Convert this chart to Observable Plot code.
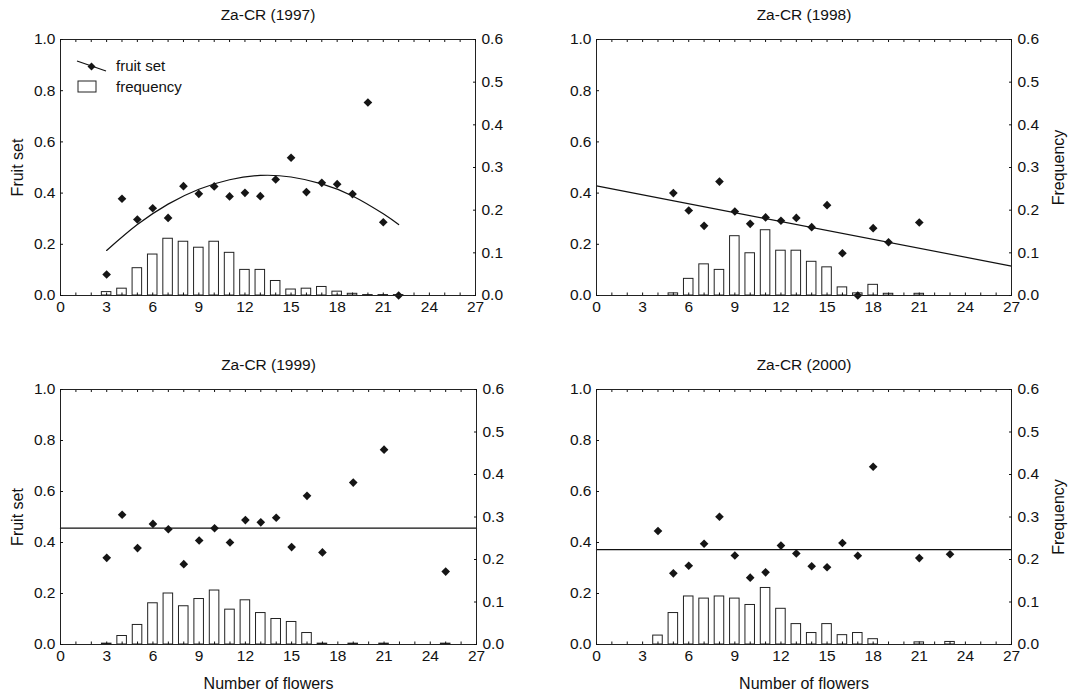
<!DOCTYPE html>
<html>
<head>
<meta charset="utf-8">
<script src="https://cdn.jsdelivr.net/npm/d3@7"></script>
<script src="https://cdn.jsdelivr.net/npm/@observablehq/plot@0.6"></script>
<style>
  html, body { margin: 0; padding: 0; background: #fff; }
  #wrap { position: relative; width: 1068px; height: 692px; background: #fff; font-family: "Liberation Sans", Arial, sans-serif; }
  .panel { position: absolute; }
  #legend { position: absolute; left: 0; top: 0; }
</style>
</head>
<body>
<div id="wrap"></div>
<script>
// ---------- data ----------
const titles = ["Za-CR (1997)", "Za-CR (1998)", "Za-CR (1999)", "Za-CR (2000)"];
const xTickValues = [0, 3, 6, 9, 12, 15, 18, 21, 24, 27];
const fruitTicks = [0, 0.2, 0.4, 0.6, 0.8, 1.0];
const freqTicks = [0, 0.1, 0.2, 0.3, 0.4, 0.5, 0.6];

// 1997
const pts1997X = [3,4,5,6,7,8,9,10,11,12,13,14,15,16,17,18,19,20,21,22];
const fruit1997 = [0.082,0.378,0.297,0.341,0.303,0.427,0.397,0.426,0.387,0.401,0.388,0.453,0.538,0.404,0.440,0.435,0.396,0.754,0.286,0.0];
const bars1997X = [3,4,5,6,7,8,9,10,11,12,13,14,15,16,17,18,19,20,21,22];
const freq1997 = [0.008,0.016,0.064,0.096,0.133,0.126,0.112,0.126,0.100,0.060,0.060,0.034,0.014,0.016,0.020,0.009,0.004,0.001,0.001,0.001];
const fit1997X = [3,5,7,9,11,13,15,17,19,21,22];
const fit1997Y = [0.176,0.277,0.357,0.415,0.452,0.469,0.463,0.436,0.389,0.319,0.277];

// 1998
const pts1998X = [5,6,7,8,9,10,11,12,13,14,15,16,17,18,19,21];
const fruit1998 = [0.400,0.332,0.272,0.445,0.328,0.280,0.305,0.292,0.303,0.267,0.353,0.165,0.0,0.263,0.208,0.285];
const bars1998X = [5,6,7,8,9,10,11,12,13,14,15,16,17,18,19,21];
const freq1998 = [0.005,0.039,0.073,0.060,0.139,0.099,0.153,0.105,0.105,0.079,0.066,0.019,0.005,0.025,0.004,0.004];
const fit1998X = [0, 27];
const fit1998Y = [0.428, 0.115];

// 1999
const pts1999X = [3,4,5,6,7,8,9,10,11,12,13,14,15,16,17,19,21,25];
const fruit1999 = [0.340,0.509,0.378,0.473,0.452,0.315,0.408,0.456,0.400,0.488,0.479,0.497,0.382,0.583,0.361,0.635,0.764,0.286];
const bars1999X = [3,4,5,6,7,8,9,10,11,12,13,14,15,16,17,19,21,25];
const freq1999 = [0.002,0.020,0.046,0.097,0.120,0.090,0.107,0.127,0.082,0.104,0.074,0.060,0.053,0.027,0.002,0.002,0.002,0.002];
const fit1999X = [0, 27];
const fit1999Y = [0.456, 0.456];

// 2000
const pts2000X = [4,5,6,7,8,9,10,11,12,13,14,15,16,17,18,21,23];
const fruit2000 = [0.445,0.279,0.309,0.395,0.501,0.349,0.262,0.283,0.388,0.357,0.307,0.303,0.398,0.348,0.697,0.339,0.354];
const bars2000X = [4,5,6,7,8,9,10,11,12,13,14,15,16,17,18,21,23];
const freq2000 = [0.021,0.074,0.113,0.108,0.113,0.108,0.093,0.133,0.084,0.048,0.027,0.048,0.022,0.027,0.0125,0.005,0.006];
const fit2000X = [0, 27];
const fit2000Y = [0.372, 0.372];

// ---------- helpers ----------
const FREQ_MAX = 0.6;       // right axis max
const BAR_HALF = 0.31;      // half bar width in x units
const FONT = "'Liberation Sans', Arial, Helvetica, sans-serif";
const TICK_FS = 15.5;

const zip = (xs, ys) => xs.map((x, i) => ({x, y: ys[i]}));

function panel(cfg) {
  const {title, ptsX, fruit, barsX, freq, fitX, fitY, curve,
         left, top, width, height, mt, mb, ml, mr,
         fruitLabel, freqLabel, xLabel} = cfg;
  const points = zip(ptsX, fruit);
  const bars = zip(barsX, freq);
  const fit = zip(fitX, fitY);
  const marks = [
    Plot.rectY(bars, {x1: d => d.x - BAR_HALF, x2: d => d.x + BAR_HALF, y1: 0, y2: d => d.y / FREQ_MAX,
                      fill: "white", stroke: "#222", strokeWidth: 1}),
    Plot.line(fit, {x: "x", y: "y", stroke: "#111", strokeWidth: 1.2, curve: curve || "linear"}),
    Plot.dot(points, {x: "x", y: "y", symbol: "diamond2", r: 3.9, fill: "#151515", stroke: "none"}),
    Plot.frame({stroke: "#222", strokeWidth: 1}),
    Plot.axisX({ticks: d3.range(0, 28), tickSize: -2.5, tickPadding: 8,
                tickFormat: d => (xTickValues.includes(d) ? String(d) : ""), label: null, fontSize: TICK_FS}),
    Plot.axisX({anchor: "top", ticks: d3.range(0, 28), tickSize: -2, tickFormat: () => "", label: null}),
    Plot.axisY({anchor: "left", ticks: fruitTicks, tickSize: -3, tickPadding: 8,
                tickFormat: d3.format(".1f"), label: null, fontSize: TICK_FS}),
    Plot.axisY({anchor: "right", ticks: freqTicks.map(v => v / FREQ_MAX), tickSize: -3, tickPadding: 9,
                tickFormat: d => (d * FREQ_MAX).toFixed(1), label: null, fontSize: TICK_FS}),
    Plot.text([title], {frameAnchor: "top", dy: -24, lineAnchor: "middle", textAnchor: "middle", fontSize: 15.5, fill: "#111"})
  ];
  if (fruitLabel) marks.push(Plot.text(["Fruit set"], {frameAnchor: "left", dx: -43, rotate: -90,
    textAnchor: "middle", lineAnchor: "middle", fontSize: 16, fill: "#111"}));
  if (freqLabel) marks.push(Plot.text(["Frequency"], {frameAnchor: "right", dx: 47, rotate: -90,
    textAnchor: "middle", lineAnchor: "middle", fontSize: 16, fill: "#111"}));
  if (xLabel) marks.push(Plot.text(["Number of flowers"], {frameAnchor: "bottom", dy: 39,
    textAnchor: "middle", lineAnchor: "middle", fontSize: 16, fill: "#111"}));

  const svg = Plot.plot({
    width, height,
    marginTop: mt, marginBottom: mb, marginLeft: ml, marginRight: mr,
    x: {domain: [0, 27]},
    y: {domain: [0, 1]},
    style: {fontFamily: FONT, fontSize: "15px", color: "#111", background: "transparent", overflow: "visible"},
    marks
  });
  svg.classList.add("panel");
  svg.style.left = left + "px";
  svg.style.top = top + "px";
  svg.style.position = "absolute";
  return svg;
}

const wrap = document.getElementById("wrap");
wrap.appendChild(panel({title: titles[0], ptsX: pts1997X, fruit: fruit1997, barsX: bars1997X, freq: freq1997,
  fitX: fit1997X, fitY: fit1997Y, curve: "natural",
  left: 0, top: 0, width: 534, height: 346, mt: 39, mb: 51, ml: 60, mr: 59, fruitLabel: true}));
wrap.appendChild(panel({title: titles[1], ptsX: pts1998X, fruit: fruit1998, barsX: bars1998X, freq: freq1998,
  fitX: fit1998X, fitY: fit1998Y,
  left: 534, top: 0, width: 534, height: 346, mt: 39, mb: 51, ml: 62, mr: 57, freqLabel: true}));
wrap.appendChild(panel({title: titles[2], ptsX: pts1999X, fruit: fruit1999, barsX: bars1999X, freq: freq1999,
  fitX: fit1999X, fitY: fit1999Y,
  left: 0, top: 346, width: 534, height: 346, mt: 43, mb: 48, ml: 60, mr: 58, fruitLabel: true, xLabel: true}));
wrap.appendChild(panel({title: titles[3], ptsX: pts2000X, fruit: fruit2000, barsX: bars2000X, freq: freq2000,
  fitX: fit2000X, fitY: fit2000Y,
  left: 534, top: 346, width: 534, height: 346, mt: 43, mb: 48, ml: 62, mr: 57, freqLabel: true, xLabel: true}));

// ---------- legend (panel 1) ----------
const legendItems = ["fruit set", "frequency"];
const NS = "http://www.w3.org/2000/svg";
const leg = document.createElementNS(NS, "svg");
leg.setAttribute("id", "legend");
leg.setAttribute("width", 220);
leg.setAttribute("height", 110);
leg.style.position = "absolute"; leg.style.left = "0px"; leg.style.top = "0px";
leg.innerHTML = `
  <line x1="77" y1="61" x2="106" y2="71" stroke="#111" stroke-width="1.2"/>
  <path d="M91.5,62.5 L95.5,66.5 L91.5,70.5 L87.5,66.5 Z" fill="#151515"/>
  <text x="116" y="67" dominant-baseline="middle" font-family="${FONT}" font-size="15" fill="#111">${legendItems[0]}</text>
  <rect x="78" y="81" width="18" height="11" fill="white" stroke="#222" stroke-width="1"/>
  <text x="116" y="88" dominant-baseline="middle" font-family="${FONT}" font-size="15" fill="#111">${legendItems[1]}</text>`;
wrap.appendChild(leg);
</script>
</body>
</html>
